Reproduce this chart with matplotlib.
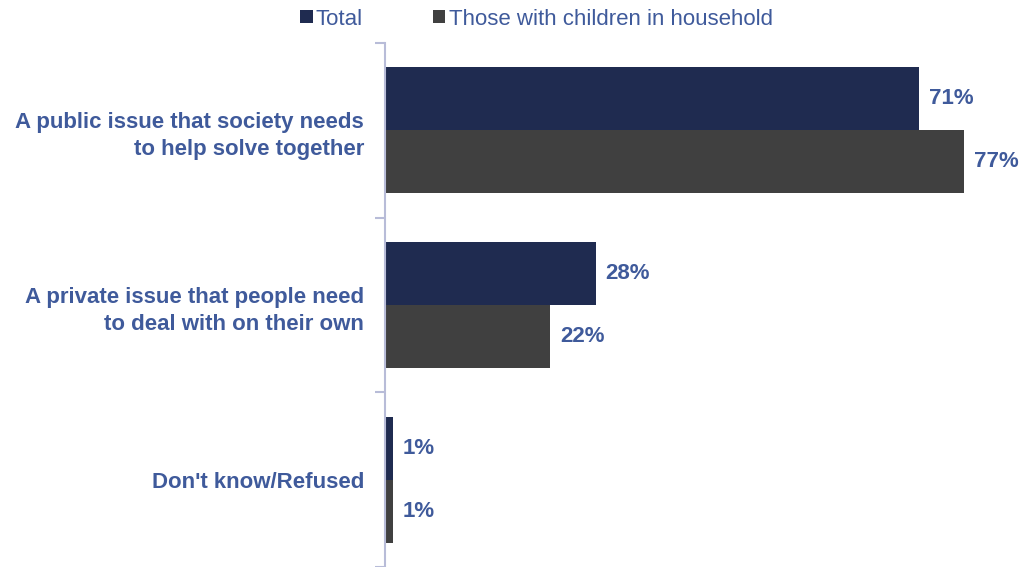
import matplotlib
matplotlib.use("Agg")
import matplotlib.pyplot as plt
import numpy as np

categories = [
    "A public issue that society needs\nto help solve together",
    "A private issue that people need\nto deal with on their own",
    "Don't know/Refused",
]
series_names = ["Total", "Those with children in household"]
total = [71, 28, 1]
with_children = [77, 22, 1]

navy = "#1f2b50"
dark_gray = "#404040"
text_blue = "#3f5a9b"
axis_color = "#b8bcd8"

plt.rcParams["font.family"] = ["Liberation Sans", "DejaVu Sans"]

fig = plt.figure(figsize=(10.22, 5.67), dpi=100)
ax = fig.add_axes([385 / 1022, 0.0, 1 - 385 / 1022, 1 - 43 / 567])

n = len(categories)
centers = np.arange(n) + 0.5
bar_h = 63 / 175

ax.barh(centers - bar_h / 2, total, height=bar_h, color=navy, label=series_names[0])
ax.barh(centers + bar_h / 2, with_children, height=bar_h, color=dark_gray, label=series_names[1])

for c, v in zip(centers - bar_h / 2, total):
    ax.text(v + 1.3, c, f"{v}%", va="center", ha="left", color=text_blue,
            fontsize=16, fontweight="bold")
for c, v in zip(centers + bar_h / 2, with_children):
    ax.text(v + 1.3, c, f"{v}%", va="center", ha="left", color=text_blue,
            fontsize=16, fontweight="bold")

ax.set_ylim(n, 0)
ax.set_xlim(0, (1022 - 385) / 7.52)

ax.set_yticks([0, 1, 2, 3])
ax.set_yticklabels([])
ax.set_yticks(centers, minor=True)
ax.set_yticklabels(categories, minor=True, color=text_blue, fontsize=16,
                   fontweight="bold", ha="right", linespacing=1.4)
ax.tick_params(axis="y", which="minor", length=0, pad=15)
ax.tick_params(axis="y", which="major", length=7, color=axis_color, width=1.5)
ax.set_xticks([])

for s in ["top", "right", "bottom"]:
    ax.spines[s].set_visible(False)
ax.spines["left"].set_color(axis_color)
ax.spines["left"].set_linewidth(1.5)

handles, labels = ax.get_legend_handles_labels()
leg = fig.legend(handles, labels, loc="upper center", bbox_to_anchor=(0.525, 1.02),
                 ncol=2, frameon=False, fontsize=16, handlelength=0.55,
                 handleheight=0.55, handletextpad=0.15, columnspacing=3.15)
for t in leg.get_texts():
    t.set_color(text_blue)

fig.savefig("out.png", dpi=100)
